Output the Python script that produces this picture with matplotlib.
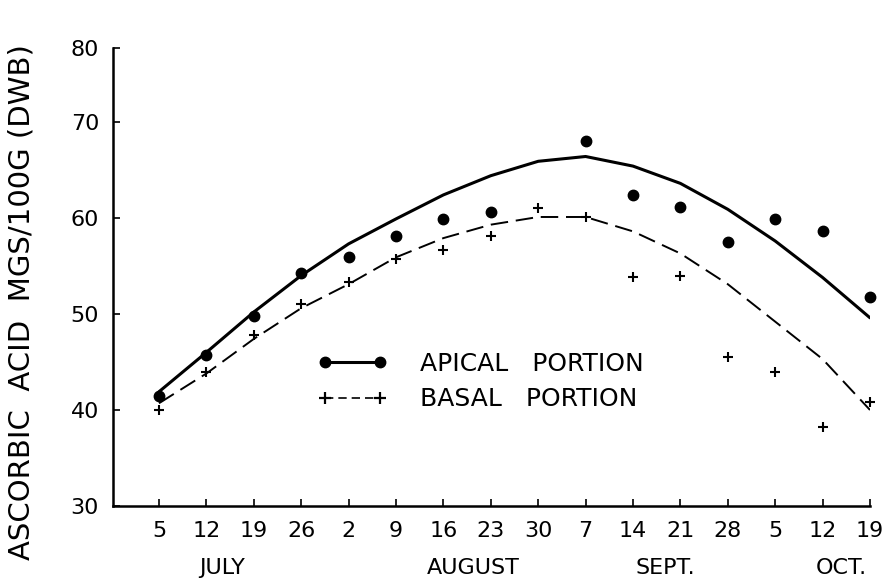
import numpy as np
import matplotlib
matplotlib.use('Agg')
import matplotlib.pyplot as plt
from matplotlib.lines import Line2D
from matplotlib import transforms

plt.rcParams['font.family'] = ['DejaVu Sans']

# weekly sampling dates
days = ['5', '12', '19', '26', '2', '9', '16', '23', '30', '7', '14', '21', '28', '5', '12', '19']
months = ['JULY', 'AUGUST', 'SEPT.', 'OCT.']
month_pos = [1.33, 6.62, 10.68, 14.4]

# observed values (mg/100 g, dry weight basis)
apical_obs = [41.5, 45.7, 49.8, 54.3, 55.9, 58.1, 59.9, 60.6, np.nan, 68.0,
              62.4, 61.1, 57.5, 59.9, 58.6, 51.8]
basal_obs = [40.0, 44.0, 47.8, 51.0, 53.3, 55.7, 56.7, 58.1, 61.0, 60.1,
             53.9, 54.0, 45.5, 44.0, 38.2, 40.8]

# fitted curves read at each date
apical_fit = [41.9, 46.0, 50.2, 54.0, 57.3, 59.9, 62.4, 64.4, 65.9, 66.4,
              65.4, 63.6, 60.9, 57.6, 53.8, 49.6]
basal_fit = [40.7, 43.8, 47.4, 50.6, 53.1, 55.9, 57.9, 59.3, 60.1, 60.1,
             58.6, 56.3, 53.1, 49.2, 45.3, 40.0]

yticks = [30, 40, 50, 60, 70, 77.7]
ylabels = ['30', '40', '50', '60', '70', '80']

x = np.arange(len(days))

fig = plt.figure(figsize=(8.87, 5.87), dpi=100)
ax = fig.add_axes([113/887, 1-506/587, (870-113)/887, (506-48)/587])

ax.plot(x, apical_fit, '-', color='k', lw=2.2, solid_capstyle='round')
ax.plot(x, basal_fit, color='k', lw=1.4, dashes=(9, 4))
ax.plot(x, apical_obs, 'o', color='k', ms=7.5, clip_on=False)
ax.plot(x, basal_obs, '+', color='k', ms=7.5, mew=1.5, clip_on=False)

ax.set_xlim(-0.97, 15.0)
ax.set_ylim(30, 77.7)
ax.set_xticks(x)
ax.set_xticklabels(days)
ax.set_yticks(yticks)
ax.set_yticklabels(ylabels)
ax.tick_params(direction='in', length=5, width=1.2, labelsize=16)
ax.tick_params(axis='x', pad=11)
ax.tick_params(axis='y', pad=10)
for s in ['top', 'right']:
    ax.spines[s].set_visible(False)
for s in ['left', 'bottom']:
    ax.spines[s].set_linewidth(1.8)

trans = transforms.blended_transform_factory(ax.transData, ax.transAxes)
for m, p in zip(months, month_pos):
    ax.text(p, -0.135, m, transform=trans, ha='center', va='center', fontsize=16)

fig.text(22/887, 0.485, 'ASCORBIC  ACID  MGS/100G (DWB)', rotation=90,
         ha='center', va='center', fontsize=21)

h1 = Line2D([], [], color='k', lw=2.2, marker='o', ms=7.5)
h2 = Line2D([], [], color='k', lw=1.2, marker='+', ms=8, mew=1.6, dashes=(5, 3))
ax.legend([h1, h2], ['APICAL   PORTION', 'BASAL   PORTION'], numpoints=2,
          frameon=False, fontsize=18, handlelength=2.8, handletextpad=1.3,
          labelspacing=0.45, loc='upper left', bbox_to_anchor=(0.24, 0.385))

fig.savefig('out.png', dpi=100)
